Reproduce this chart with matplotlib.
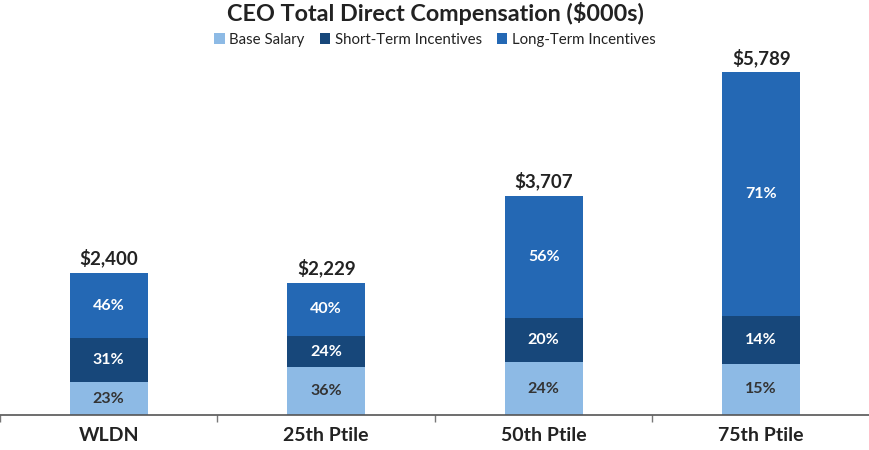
import matplotlib
matplotlib.use("Agg")
import matplotlib.pyplot as plt
import numpy as np

categories = ["WLDN", "25th Ptile", "50th Ptile", "75th Ptile"]
totals = [2400, 2229, 3707, 5789]
base_pct = [23, 36, 24, 15]
sti_pct = [31, 24, 20, 14]
lti_pct = [46, 40, 56, 71]
series_names = ["Base Salary", "Short-Term Incentives", "Long-Term Incentives"]
colors = ["#8DBAE5", "#17477A", "#2468B4"]

plt.rcParams['font.family'] = ['Lato', 'DejaVu Sans']

tot = np.array(totals, dtype=float)
base = tot * np.array(base_pct) / 100
sti = tot * np.array(sti_pct) / 100
lti = tot - base - sti

fig = plt.figure(figsize=(8.7, 4.5), dpi=100)
ax = fig.add_axes([0.0, 0.078, 1.0, 0.81])

x = np.arange(len(categories))
w = 0.36
b1 = ax.bar(x, base, w, color=colors[0], label=series_names[0])
b2 = ax.bar(x, sti, w, bottom=base, color=colors[1], label=series_names[1])
b3 = ax.bar(x, lti, w, bottom=base + sti, color=colors[2], label=series_names[2])

for i in range(len(categories)):
    ax.text(x[i], base[i] / 2, f"{base_pct[i]}%", ha="center", va="center",
            fontsize=11.5, fontweight="bold", color="#333333")
    ax.text(x[i], base[i] + sti[i] / 2, f"{sti_pct[i]}%", ha="center", va="center",
            fontsize=11.5, fontweight="bold", color="white")
    ax.text(x[i], base[i] + sti[i] + lti[i] / 2, f"{lti_pct[i]}%", ha="center", va="center",
            fontsize=11.5, fontweight="bold", color="white")
    ax.text(x[i], tot[i] + 90, f"${totals[i]:,}", ha="center", va="bottom",
            fontsize=13.5, fontweight="bold", color="#222222")

ax.set_xlim(-0.5, len(categories) - 0.5)
ax.set_ylim(0, 6160)
ax.set_yticks([])
for s in ["top", "right", "left"]:
    ax.spines[s].set_visible(False)
ax.spines["bottom"].set_color("#555555")
ax.spines["bottom"].set_linewidth(1.2)

ax.set_xticks(np.arange(-0.5, len(categories), 1.0), minor=False)
ax.set_xticklabels([])
ax.tick_params(axis="x", which="major", length=5, color="#777777", width=1)
ax.set_xticks(x, minor=True)
ax.set_xticklabels(categories, minor=True, fontsize=14, fontweight="bold", color="#222222")
ax.tick_params(axis="x", which="minor", length=0, pad=9)

fig.text(0.5, 0.97, "CEO Total Direct Compensation ($000s)", ha="center", va="center",
         fontsize=16.8, fontweight="bold", color="#222222")
fig.legend(handles=[b1, b2, b3], loc="center", bbox_to_anchor=(0.5, 0.912), ncol=3,
           frameon=False, fontsize=10.8, handlelength=0.7, handleheight=0.7,
           handletextpad=0.3, columnspacing=1.0, labelcolor="#222222")

fig.savefig("out.png", dpi=100)
